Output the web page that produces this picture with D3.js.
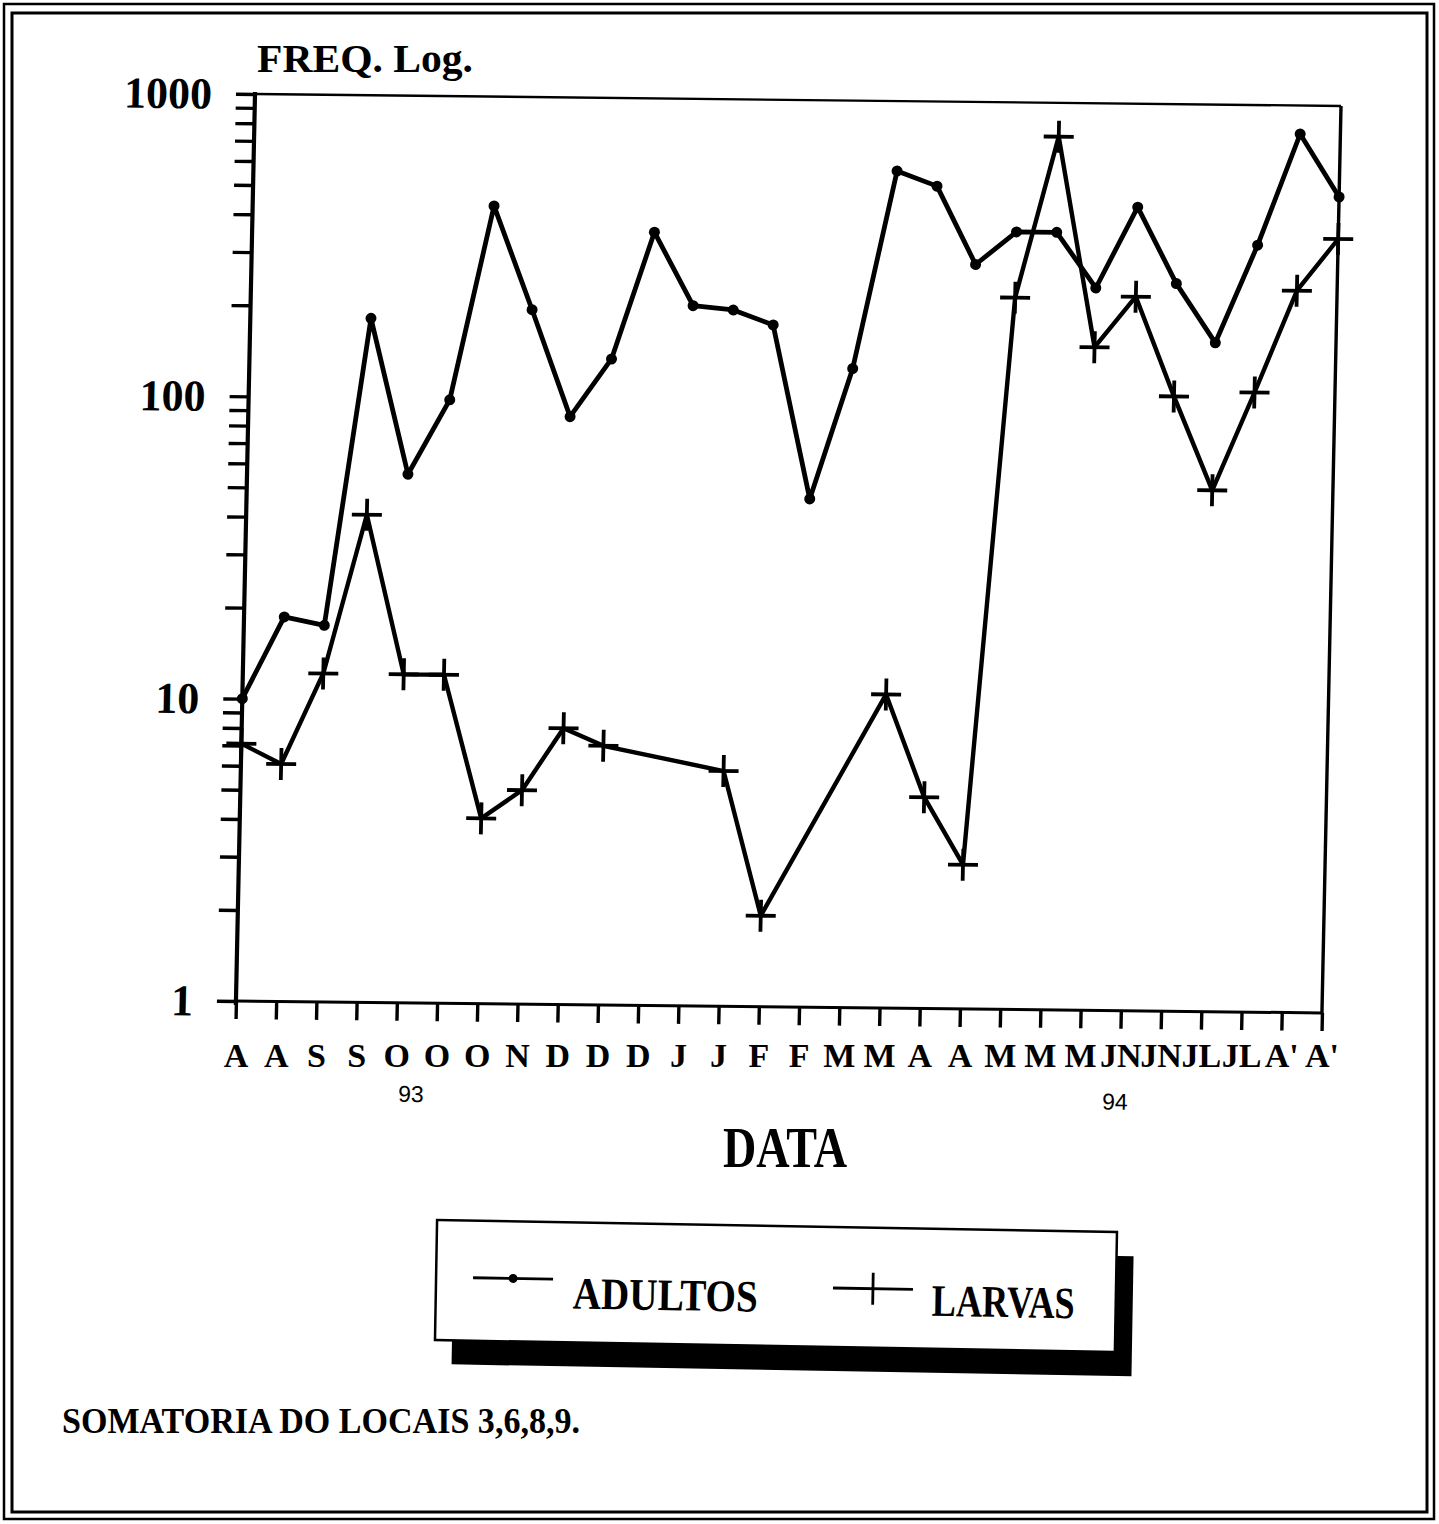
<!DOCTYPE html>
<html>
<head>
<meta charset="utf-8">
<script src="https://cdn.jsdelivr.net/npm/d3@7"></script>
<style>
  html, body { margin: 0; padding: 0; background: #fff; }
  svg { display: block; }
</style>
</head>
<body>
<svg id="chart" width="1439" height="1524"></svg>
<script>
// Sampling dates, Aug 1993 – Aug 1994 (two or three samples per month)
const months = ["A","A","S","S","O","O","O","N","D","D","D","J","J","F","F",
                "M","M","A","A","M","M","M","JN","JN","JL","JL","A'","A'"];

// Summed counts (sites 3, 6, 8, 9)
const adultos = [10, 18.7, 17.6, 183, 56, 99, 435, 198, 88, 137, 361, 207, 201, 180,
                 48, 130, 587, 525, 290, 373, 373, 245, 455, 255, 163, 344, 805, 500];
const larvas  = [7.1, 6.1, 12.2, 41, 12.2, 12.2, 4.1, 5.1, 8.2, 7.2, null, null, 6.0, 2.0,
                 null, null, 10.9, 5.0, 3.0, 226, 773, 156, 230, 108, 53, 112, 244, 363];

// Year markers under the date axis (position given in sample index units)
const yearLabels = ["93", "94"];
const yearAt = [4.4, 21.9];

// Labelled decades on the log axis
const yTickLabels = [1, 10, 100, 1000];

const svg = d3.select("#chart");
const serif = "'Liberation Serif', 'Times New Roman', serif";

// ---- page frame (double rule) ----
svg.append("rect").attr("x", 4).attr("y", 4).attr("width", 1430).attr("height", 1515)
  .attr("fill", "none").attr("stroke", "#000").attr("stroke-width", 2.5);
svg.append("rect").attr("x", 12).attr("y", 13).attr("width", 1415).attr("height", 1499)
  .attr("fill", "none").attr("stroke", "#000").attr("stroke-width", 3);

// ---- plot area ----
const W = 1086, H = 907;
const plot = svg.append("g")
  .attr("transform", "matrix(1, 0.011, -0.021, 1, 255, 94)");

const x = d3.scalePoint().domain(d3.range(months.length)).range([0, W]);
const xLin = d3.scaleLinear().domain([0, months.length - 1]).range([0, W]);
const y = d3.scaleLog().domain([1, 1000]).range([H, 0]);

// y ticks at every 1..9 multiple of each decade
const yTicks = [];
for (let d = 1; d <= 100; d *= 10) for (let k = 1; k <= 9; k++) yTicks.push(k * d);
yTicks.push(1000);

const yAxis = plot.append("g")
  .call(d3.axisLeft(y).tickValues(yTicks).tickSize(19).tickFormat(""));
yAxis.select(".domain").remove();
yAxis.selectAll(".tick line").attr("stroke", "#000").attr("stroke-width", 3.4);

plot.selectAll(".ylab").data(yTickLabels).join("text")
  .attr("class", "ylab")
  .attr("x", -43).attr("y", d => y(d) + 15)
  .attr("text-anchor", "end")
  .attr("font-family", serif).attr("font-weight", "bold").attr("font-size", 44)
  .text(d => d);

const xAxis = plot.append("g").attr("transform", `translate(0,${H})`)
  .call(d3.axisBottom(x).tickSize(18).tickFormat(""));
xAxis.select(".domain").remove();
xAxis.selectAll(".tick line").attr("stroke", "#000").attr("stroke-width", 3.4);

// frame of the plot
plot.append("line").attr("x1", 0).attr("y1", 0).attr("x2", W).attr("y2", 0)
  .attr("stroke", "#000").attr("stroke-width", 2.4);
plot.append("line").attr("x1", W).attr("y1", 0).attr("x2", W).attr("y2", H)
  .attr("stroke", "#000").attr("stroke-width", 3.4);
plot.append("line").attr("x1", 0).attr("y1", H).attr("x2", W).attr("y2", H)
  .attr("stroke", "#000").attr("stroke-width", 3);
plot.append("line").attr("x1", 0).attr("y1", -2).attr("x2", 0).attr("y2", H + 4)
  .attr("stroke", "#000").attr("stroke-width", 4.2);

// series
const adPts = adultos.map((v, i) => ({ i, v }));
const lvPts = larvas.map((v, i) => ({ i, v })).filter(d => d.v != null);

const line = d3.line().x(d => x(d.i)).y(d => y(d.v));

plot.append("path").datum(adPts).attr("d", line)
  .attr("fill", "none").attr("stroke", "#000").attr("stroke-width", 4.8)
  .attr("stroke-linejoin", "round");
plot.selectAll(".ad").data(adPts).join("circle")
  .attr("class", "ad").attr("cx", d => x(d.i)).attr("cy", d => y(d.v)).attr("r", 5.5)
  .attr("fill", "#000");

plot.append("path").datum(lvPts).attr("d", line)
  .attr("fill", "none").attr("stroke", "#000").attr("stroke-width", 4.4)
  .attr("stroke-linejoin", "round");
const plus = plot.selectAll(".lv").data(lvPts).join("g")
  .attr("class", "lv").attr("transform", d => `translate(${x(d.i)},${y(d.v)})`);
plus.append("line").attr("x1", -15).attr("x2", 15).attr("y1", 0).attr("y2", 0)
  .attr("stroke", "#000").attr("stroke-width", 3.8);
plus.append("line").attr("x1", 0).attr("x2", 0).attr("y1", -16).attr("y2", 16)
  .attr("stroke", "#000").attr("stroke-width", 3.8);

// year markers
plot.selectAll(".yr").data(yearLabels).join("text")
  .attr("class", "yr")
  .attr("x", (d, k) => xLin(yearAt[k])).attr("y", H + 99)
  .attr("text-anchor", "middle")
  .attr("font-family", "'Liberation Sans', Arial, sans-serif").attr("font-size", 23)
  .text(d => d);

// date labels (x of each tick projected to the bottom edge of the plot)
const bottomX = i => 255 - 0.021 * H + x(i);
svg.selectAll(".xlab").data(months).join("text")
  .attr("class", "xlab")
  .attr("x", (d, i) => bottomX(i)).attr("y", 1067)
  .attr("text-anchor", "middle")
  .attr("font-family", serif).attr("font-weight", "bold").attr("font-size", 34)
  .text(d => d);

// axis titles
svg.append("text").attr("x", 257).attr("y", 72)
  .attr("font-family", serif).attr("font-weight", "bold").attr("font-size", 39)
  .attr("textLength", 216).attr("lengthAdjust", "spacingAndGlyphs")
  .text("FREQ. Log.");

svg.append("text").attr("x", 723).attr("y", 1167)
  .attr("font-family", serif).attr("font-weight", "bold").attr("font-size", 56)
  .attr("textLength", 124).attr("lengthAdjust", "spacingAndGlyphs")
  .text("DATA");

// ---- legend ----
const lg = svg.append("g").attr("transform", "rotate(1 775 1285)");
lg.append("rect").attr("x", 453).attr("y", 1250).attr("width", 680).attr("height", 120)
  .attr("fill", "#000");
lg.append("rect").attr("x", 436).attr("y", 1226).attr("width", 680).attr("height", 120)
  .attr("fill", "#fff").attr("stroke", "#000").attr("stroke-width", 2.5);

lg.append("line").attr("x1", 473).attr("x2", 553).attr("y1", 1283).attr("y2", 1283)
  .attr("stroke", "#000").attr("stroke-width", 2.8);
lg.append("circle").attr("cx", 513).attr("cy", 1283).attr("r", 4.5).attr("fill", "#000");
lg.append("text").attr("x", 573).attr("y", 1312)
  .attr("font-family", serif).attr("font-weight", "bold").attr("font-size", 45)
  .attr("textLength", 185).attr("lengthAdjust", "spacingAndGlyphs")
  .text("ADULTOS");

lg.append("line").attr("x1", 833).attr("x2", 913).attr("y1", 1287).attr("y2", 1287)
  .attr("stroke", "#000").attr("stroke-width", 2.8);
lg.append("line").attr("x1", 873).attr("x2", 873).attr("y1", 1271).attr("y2", 1303)
  .attr("stroke", "#000").attr("stroke-width", 2.8);
lg.append("text").attr("x", 932).attr("y", 1313)
  .attr("font-family", serif).attr("font-weight", "bold").attr("font-size", 45)
  .attr("textLength", 143).attr("lengthAdjust", "spacingAndGlyphs")
  .text("LARVAS");

// ---- note ----
svg.append("text").attr("x", 62).attr("y", 1433)
  .attr("font-family", serif).attr("font-weight", "bold").attr("font-size", 35)
  .attr("textLength", 518).attr("lengthAdjust", "spacingAndGlyphs")
  .text("SOMATORIA DO LOCAIS 3,6,8,9.");
</script>
</body>
</html>
